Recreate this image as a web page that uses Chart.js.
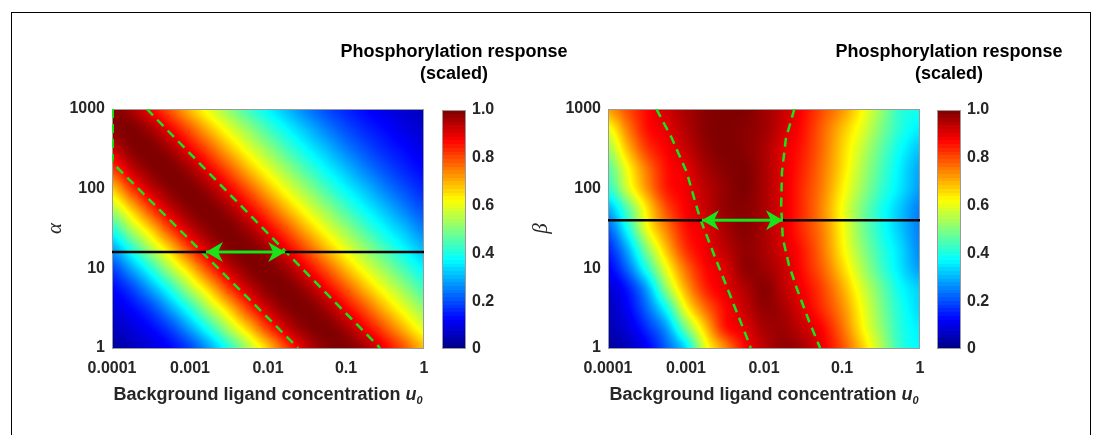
<!DOCTYPE html>
<html>
<head>
<meta charset="utf-8">
<script src="https://cdn.jsdelivr.net/npm/chart.js@4.4.0/dist/chart.umd.min.js"></script>
<style>
  html, body { margin: 0; padding: 0; background: #fff; }
  body { width: 1099px; height: 435px; position: relative; overflow: hidden; }
  .frame { position: absolute; left: 11px; top: 12px; width: 1078px; height: 480px; border: 1px solid #000; }
  canvas { position: absolute; }
</style>
</head>
<body>
<div class="frame"></div>
<canvas id="mapA" width="415" height="320" style="left:20px;top:95px"></canvas>
<canvas id="barA" width="260" height="340" style="left:324px;top:30px"></canvas>
<canvas id="mapB" width="415" height="320" style="left:516px;top:95px"></canvas>
<canvas id="barB" width="260" height="340" style="left:819px;top:30px"></canvas>
<script>
// grid nodes, log10(u0) across and log10(alpha / beta) up
const gridExpX = [-4, -3.75, -3.5, -3.25, -3, -2.75, -2.5, -2.25, -2, -1.75, -1.5, -1.25, -1, -0.75, -0.5, -0.25, 0];
const gridExpY = [0, 0.25, 0.5, 0.75, 1, 1.25, 1.5, 1.75, 2, 2.25, 2.5, 2.75, 3];

// scaled response, first row is the bottom (alpha = 1)
const responseA = [
  [0.03, 0.06, 0.09, 0.13, 0.19, 0.29, 0.41, 0.55, 0.68, 0.82, 0.93, 0.99, 1.00, 0.96, 0.88, 0.79, 0.69],
  [0.06, 0.09, 0.13, 0.19, 0.29, 0.41, 0.55, 0.68, 0.82, 0.93, 0.99, 1.00, 0.96, 0.88, 0.79, 0.69, 0.60],
  [0.09, 0.13, 0.19, 0.29, 0.41, 0.55, 0.68, 0.82, 0.93, 0.99, 1.00, 0.96, 0.88, 0.79, 0.69, 0.60, 0.52],
  [0.13, 0.19, 0.29, 0.41, 0.55, 0.68, 0.82, 0.93, 0.99, 1.00, 0.96, 0.88, 0.79, 0.69, 0.60, 0.52, 0.44],
  [0.19, 0.29, 0.41, 0.55, 0.68, 0.82, 0.93, 0.99, 1.00, 0.96, 0.88, 0.79, 0.69, 0.60, 0.52, 0.44, 0.37],
  [0.29, 0.41, 0.55, 0.68, 0.82, 0.93, 0.99, 1.00, 0.96, 0.88, 0.79, 0.69, 0.60, 0.52, 0.44, 0.37, 0.31],
  [0.41, 0.55, 0.68, 0.82, 0.93, 0.99, 1.00, 0.96, 0.88, 0.79, 0.69, 0.60, 0.52, 0.44, 0.37, 0.31, 0.25],
  [0.55, 0.68, 0.82, 0.93, 0.99, 1.00, 0.96, 0.88, 0.79, 0.69, 0.60, 0.52, 0.44, 0.37, 0.31, 0.25, 0.20],
  [0.68, 0.82, 0.93, 0.99, 1.00, 0.96, 0.88, 0.79, 0.69, 0.60, 0.52, 0.44, 0.37, 0.31, 0.25, 0.20, 0.16],
  [0.82, 0.93, 0.99, 1.00, 0.96, 0.88, 0.79, 0.69, 0.60, 0.52, 0.44, 0.37, 0.31, 0.25, 0.20, 0.16, 0.13],
  [0.93, 0.99, 1.00, 0.96, 0.88, 0.79, 0.69, 0.60, 0.52, 0.44, 0.37, 0.31, 0.25, 0.20, 0.16, 0.13, 0.10],
  [0.99, 1.00, 0.96, 0.88, 0.79, 0.69, 0.60, 0.52, 0.44, 0.37, 0.31, 0.25, 0.20, 0.16, 0.13, 0.10, 0.08],
  [1.00, 0.96, 0.88, 0.79, 0.69, 0.60, 0.52, 0.44, 0.37, 0.31, 0.25, 0.20, 0.16, 0.13, 0.10, 0.08, 0.06]
];
const responseB = [
  [0.03, 0.06, 0.12, 0.22, 0.35, 0.60, 0.74, 0.87, 0.94, 0.98, 0.96, 0.89, 0.80, 0.68, 0.55, 0.42, 0.37],
  [0.05, 0.09, 0.17, 0.28, 0.49, 0.68, 0.85, 0.90, 0.96, 0.97, 0.93, 0.87, 0.77, 0.64, 0.52, 0.41, 0.36],
  [0.06, 0.12, 0.23, 0.39, 0.62, 0.77, 0.87, 0.93, 0.98, 0.96, 0.90, 0.83, 0.74, 0.62, 0.50, 0.40, 0.34],
  [0.08, 0.15, 0.29, 0.52, 0.71, 0.84, 0.90, 0.95, 0.99, 0.94, 0.88, 0.81, 0.71, 0.59, 0.48, 0.38, 0.33],
  [0.12, 0.23, 0.41, 0.61, 0.77, 0.87, 0.91, 0.98, 0.97, 0.93, 0.86, 0.78, 0.67, 0.55, 0.44, 0.35, 0.28],
  [0.16, 0.30, 0.51, 0.69, 0.83, 0.89, 0.94, 0.98, 0.96, 0.91, 0.85, 0.76, 0.64, 0.52, 0.42, 0.34, 0.26],
  [0.22, 0.39, 0.61, 0.75, 0.86, 0.90, 0.96, 0.99, 0.96, 0.90, 0.83, 0.75, 0.63, 0.50, 0.40, 0.32, 0.25],
  [0.30, 0.46, 0.65, 0.80, 0.88, 0.93, 0.98, 0.99, 0.96, 0.90, 0.83, 0.74, 0.62, 0.50, 0.40, 0.32, 0.25],
  [0.41, 0.58, 0.73, 0.85, 0.89, 0.94, 0.98, 1.00, 0.96, 0.90, 0.83, 0.75, 0.64, 0.53, 0.43, 0.35, 0.28],
  [0.46, 0.62, 0.76, 0.86, 0.90, 0.96, 0.99, 1.00, 0.96, 0.90, 0.84, 0.76, 0.66, 0.55, 0.45, 0.36, 0.29],
  [0.53, 0.69, 0.82, 0.88, 0.93, 0.98, 1.00, 0.99, 0.96, 0.90, 0.85, 0.77, 0.67, 0.57, 0.47, 0.38, 0.32],
  [0.61, 0.75, 0.86, 0.90, 0.95, 0.99, 1.00, 0.99, 0.97, 0.92, 0.86, 0.78, 0.69, 0.60, 0.50, 0.41, 0.36],
  [0.72, 0.80, 0.87, 0.92, 0.96, 0.99, 1.00, 1.00, 0.97, 0.93, 0.87, 0.80, 0.73, 0.63, 0.52, 0.42, 0.39]
];

const xTicks = [0.0001, 0.001, 0.01, 0.1, 1];
const xTickLabels = ['0.0001', '0.001', '0.01', '0.1', '1'];
const yTicks = [1, 10, 100, 1000];
const yTickLabels = ['1', '10', '100', '1000'];
const cbTicks = [0, 0.2, 0.4, 0.6, 0.8, 1];
const cbTickLabels = ['0', '0.2', '0.4', '0.6', '0.8', '1.0'];

// dashed contours (response = 0.9)
const contourA1X = [0.000279, 0.00275, 0.0272, 0.273];
const contourA1Y = [1000, 100, 10, 1];
const contourA2X = [0.000102, 0.000102, 0.0001, 0.001, 0.01, 0.0243];
const contourA2Y = [1000, 240, 214, 22.6, 2.38, 1];
const contourB1X = [0.000417, 0.000661, 0.00102, 0.00135, 0.00155, 0.00229, 0.00339, 0.00603, 0.00676];
const contourB1Y = [1000, 427, 162, 61.7, 40, 14.8, 5.62, 1.35, 1];
const contourB2X = [0.0245, 0.0191, 0.0170, 0.0166, 0.0174, 0.0209, 0.0263, 0.038, 0.0525];
const contourB2Y = [1000, 427, 162, 61.7, 24, 11, 5.62, 2.14, 1];

// black reference lines and double arrows
const levelA = 16;
const levelB = 40;
const arrowAX = [0.0016, 0.0166];
const arrowBX = [0.0016, 0.0175];

const GREEN = 'rgb(25, 228, 25)';
const TEXT = '#262626';
Chart.defaults.font.family = '"Liberation Sans", Arial, sans-serif';
Chart.defaults.color = TEXT;

function jet(v) {
    const c = t => Math.max(0, Math.min(1, t));
    return [c(1.5 - Math.abs(4 * v - 3)), c(1.5 - Math.abs(4 * v - 2)), c(1.5 - Math.abs(4 * v - 1))]
        .map(t => Math.round(t * 255));
}

function pts(xs, ys) {
    return xs.map((x, i) => ({ x: x, y: ys[i] }));
}

// smooth shading between grid nodes (Catmull-Rom), like shading interp
function shade(values, fx, fy) {
    const nx = values[0].length, ny = values.length;
    const ix = Math.floor(fx), iy = Math.floor(fy);
    const tx = fx - ix, ty = fy - iy;
    const at = (j, i) => values[Math.max(0, Math.min(ny - 1, j))][Math.max(0, Math.min(nx - 1, i))];
    const cr = (p0, p1, p2, p3, t) =>
        p1 + 0.5 * t * (p2 - p0 + t * (2 * p0 - 5 * p1 + 4 * p2 - p3 + t * (3 * (p1 - p2) + p3 - p0)));
    const rows = [];
    for (let m = -1; m <= 2; m++) {
        rows.push(cr(at(iy + m, ix - 1), at(iy + m, ix), at(iy + m, ix + 1), at(iy + m, ix + 2), tx));
    }
    return Math.max(0, Math.min(1, cr(rows[0], rows[1], rows[2], rows[3], ty)));
}

function makeHeatmap(values) {
    return {
        id: 'heatmap',
        beforeDatasetsDraw(chart) {
            const { ctx, chartArea } = chart;
            const xs = chart.scales.x, ys = chart.scales.y;
            const left = Math.round(chartArea.left), top = Math.round(chartArea.top);
            const w = Math.round(chartArea.right) - left, h = Math.round(chartArea.bottom) - top;
            const stepX = gridExpX[1] - gridExpX[0], stepY = gridExpY[1] - gridExpY[0];
            const off = document.createElement('canvas');
            off.width = w; off.height = h;
            const octx = off.getContext('2d');
            const img = octx.createImageData(w, h);
            const fxs = [];
            for (let i = 0; i < w; i++) {
                fxs.push((Math.log10(xs.getValueForPixel(left + i + 0.5)) - gridExpX[0]) / stepX);
            }
            for (let j = 0; j < h; j++) {
                const fy = (Math.log10(ys.getValueForPixel(top + j + 0.5)) - gridExpY[0]) / stepY;
                for (let i = 0; i < w; i++) {
                    const [r, g, b] = jet(shade(values, fxs[i], fy));
                    const k = (j * w + i) * 4;
                    img.data[k] = r; img.data[k + 1] = g; img.data[k + 2] = b; img.data[k + 3] = 255;
                }
            }
            octx.putImageData(img, 0, 0);
            ctx.drawImage(off, left, top);
            // axes box, under the lines
            ctx.save();
            ctx.strokeStyle = '#9a9a9a';
            ctx.lineWidth = 1;
            ctx.strokeRect(left + 0.5, top + 0.5, w - 1, h);
            ctx.restore();
        }
    };
}

function makeDecor(panelLabel) {
    return {
        id: 'decor',
        afterDatasetsDraw(chart) {
            const { ctx } = chart;
            // arrow heads on both ends of dataset 0
            const meta = chart.getDatasetMeta(0);
            const p0 = meta.data[0], p1 = meta.data[1];
            ctx.save();
            ctx.fillStyle = GREEN;
            [[p0, -1], [p1, 1]].forEach(([p, dir]) => {
                ctx.beginPath();
                ctx.moveTo(p.x, p.y);
                ctx.lineTo(p.x - dir * 17, p.y - 10);
                ctx.lineTo(p.x - dir * 12, p.y);
                ctx.lineTo(p.x - dir * 17, p.y + 10);
                ctx.closePath();
                ctx.fill();
            });
            ctx.restore();
        },
        afterDraw(chart) {
            const { ctx, chartArea } = chart;
            ctx.save();
            ctx.fillStyle = '#000';
            ctx.textBaseline = 'middle';
            ctx.textAlign = 'left';
            ctx.font = 'bold 18px "Liberation Sans"';
            ctx.fillText(panelLabel, chartArea.left - 70, chartArea.top - 27);

            // x axis title with italic u and subscript 0
            const main = 'Background ligand concentration ';
            ctx.fillStyle = TEXT;
            ctx.textBaseline = 'alphabetic';
            ctx.font = 'bold 18px "Liberation Sans"';
            const w1 = ctx.measureText(main).width;
            ctx.font = 'italic bold 18px "Liberation Sans"';
            const w2 = ctx.measureText('u').width;
            ctx.font = 'italic bold 11px "Liberation Sans"';
            const w3 = ctx.measureText('0').width;
            let x = (chartArea.left + chartArea.right) / 2 - (w1 + w2 + w3) / 2;
            const y = chartArea.bottom + 52;
            ctx.font = 'bold 18px "Liberation Sans"';
            ctx.fillText(main, x, y);
            x += w1;
            ctx.font = 'italic bold 18px "Liberation Sans"';
            ctx.fillText('u', x, y);
            x += w2;
            ctx.font = 'italic bold 11px "Liberation Sans"';
            ctx.fillText('0', x, y + 4);
            ctx.restore();
        }
    };
}

function logAxis(ticks, labels) {
    return {
        type: 'logarithmic',
        min: ticks[0],
        max: ticks[ticks.length - 1],
        afterBuildTicks: axis => { axis.ticks = ticks.map(v => ({ value: v })); },
        ticks: {
            callback: (v, i) => labels[i],
            autoSkip: false,
            maxRotation: 0,
            color: TEXT,
            font: { size: 16, weight: 'bold' }
        },
        grid: { display: false, drawTicks: false },
        border: { display: false }
    };
}

function createMap(id, values, level, arrowX, c1x, c1y, c2x, c2y, yName, yTitlePad, panelLabel) {
    const xAxis = logAxis(xTicks, xTickLabels);
    xAxis.ticks.padding = 11;
    xAxis.afterFit = axis => {
        axis.height = 67;
        axis.paddingLeft = 0;
        axis.paddingRight = 0;
    };
    const yAxis = logAxis(yTicks, yTickLabels);
    yAxis.ticks.padding = 7;
    yAxis.afterFit = axis => {
        axis.width = 92;
        axis.paddingTop = 0;
        axis.paddingBottom = 0;
    };
    yAxis.title = {
        display: true,
        text: yName,
        color: TEXT,
        font: { size: 21, style: 'italic', family: '"Liberation Serif", serif' },
        padding: { top: yTitlePad, bottom: 0 }
    };
    new Chart(document.getElementById(id), {
        type: 'scatter',
        data: {
            datasets: [{
                data: pts(arrowX, [level, level]),
                showLine: true, borderColor: GREEN, borderWidth: 3, pointRadius: 0
            }, {
                data: pts([xTicks[0], xTicks[xTicks.length - 1]], [level, level]),
                showLine: true, borderColor: '#000', borderWidth: 2.5, pointRadius: 0
            }, {
                data: pts(c1x, c1y),
                showLine: true, borderColor: GREEN, borderWidth: 2.5, borderDash: [9, 6], pointRadius: 0
            }, {
                data: pts(c2x, c2y),
                showLine: true, borderColor: GREEN, borderWidth: 2.5, borderDash: [9, 6], pointRadius: 0
            }]
        },
        options: {
            responsive: false,
            animation: false,
            events: [],
            layout: { padding: { left: 0, right: 11, top: 14, bottom: 0 } },
            scales: { x: xAxis, y: yAxis },
            plugins: { legend: { display: false }, tooltip: { enabled: false } }
        },
        plugins: [makeHeatmap(values), makeDecor(panelLabel)]
    });
}

const colorbarPlugin = {
    id: 'colorbar',
    beforeDatasetsDraw(chart) {
        const { ctx, chartArea } = chart;
        const ys = chart.scales.y;
        const n = 64;
        ctx.save();
        for (let k = 0; k < n; k++) {
            const [r, g, b] = jet((k + 0.5) / n);
            const yTop = Math.floor(ys.getPixelForValue((k + 1) / n));
            const yBot = Math.ceil(ys.getPixelForValue(k / n));
            ctx.fillStyle = `rgb(${r},${g},${b})`;
            ctx.fillRect(chartArea.left, yTop, chartArea.right - chartArea.left, yBot - yTop);
        }
        ctx.strokeStyle = '#9a9a9a';
        ctx.lineWidth = 1;
        ctx.strokeRect(chartArea.left + 0.5, chartArea.top + 0.5,
            chartArea.right - chartArea.left - 1, chartArea.bottom - chartArea.top - 1);
        // title above the bar
        ctx.fillStyle = '#000';
        ctx.textAlign = 'center';
        ctx.textBaseline = 'middle';
        ctx.font = 'bold 18px "Liberation Sans"';
        const cx = (chartArea.left + chartArea.right) / 2;
        ctx.fillText('Phosphorylation response', cx, chartArea.top - 58);
        ctx.fillText('(scaled)', cx, chartArea.top - 36);
        ctx.restore();
    }
};

function createColorbar(id) {
    new Chart(document.getElementById(id), {
        type: 'scatter',
        data: { datasets: [] },
        options: {
            responsive: false,
            animation: false,
            events: [],
            layout: { padding: { left: 118, right: 0, top: 80, bottom: 21 } },
            scales: {
                x: { display: false, min: 0, max: 1 },
                y: {
                    type: 'linear',
                    position: 'right',
                    min: 0,
                    max: 1,
                    afterBuildTicks: axis => { axis.ticks = cbTicks.map(v => ({ value: v })); },
                    afterFit: axis => { axis.width = 118; },
                    ticks: {
                        callback: (v, i) => cbTickLabels[i],
                        padding: 6,
                        color: TEXT,
                        font: { size: 16, weight: 'bold' }
                    },
                    grid: { display: false, drawTicks: false },
                    border: { display: false }
                }
            },
            plugins: { legend: { display: false }, tooltip: { enabled: false } }
        },
        plugins: [colorbarPlugin]
    });
}

createMap('mapA', responseA, levelA, arrowAX, contourA1X, contourA1Y, contourA2X, contourA2Y, 'α', 23, '(a)');
createColorbar('barA');
createMap('mapB', responseB, levelB, arrowBX, contourB1X, contourB1Y, contourB2X, contourB2Y, 'β', 13, '(b)');
createColorbar('barB');
</script>
</body>
</html>
